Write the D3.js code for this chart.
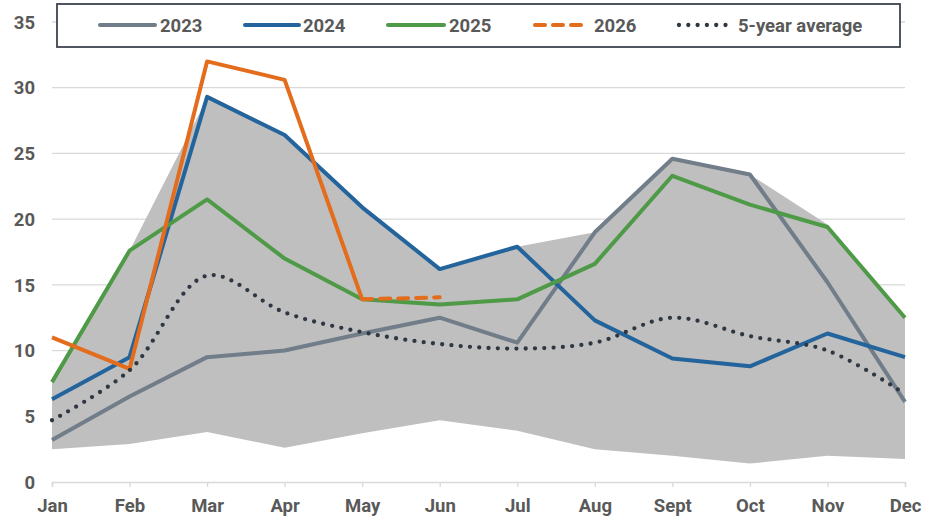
<!DOCTYPE html>
<html>
<head>
<meta charset="utf-8">
<script src="https://cdn.jsdelivr.net/npm/d3@7"></script>
<style>
  body { margin: 0; background: #fff; }
  text { font-family: Roboto, "Liberation Sans", sans-serif; font-weight: bold; fill: #595959; }
</style>
</head>
<body>
<div class="chart"></div>
<script>
var months = ["Jan", "Feb", "Mar", "Apr", "May", "Jun", "Jul", "Aug", "Sept", "Oct", "Nov", "Dec"];

var rangeHigh = [7.6, 17.6, 29.2, 26.5, 20.9, 16.1, 17.9, 19.0, 24.6, 23.4, 19.6, 12.5];
var rangeLow  = [2.5, 2.9, 3.8, 2.6, 3.7, 4.7, 3.9, 2.5, 2.0, 1.4, 2.0, 1.75];

var values2023 = [3.2, 6.5, 9.5, 10.0, 11.3, 12.5, 10.6, 19.0, 24.6, 23.4, 15.2, 6.1];
var values2024 = [6.3, 9.5, 29.3, 26.4, 20.9, 16.2, 17.9, 12.3, 9.4, 8.8, 11.3, 9.5];
var values2025 = [7.6, 17.6, 21.5, 17.0, 13.9, 13.5, 13.9, 16.6, 23.3, 21.1, 19.4, 12.5];
var values2026 = [11.0, 8.6, 32.0, 30.6, 13.9, 14.05];
var fiveYearAvg = [4.7, 8.5, 15.7, 12.9, 11.4, 10.5, 10.15, 10.6, 12.5, 11.1, 10.0, 6.7];

var yTicks = [0, 5, 10, 15, 20, 25, 30, 35];

var width = 945;
var height = 531;

var x = d3.scalePoint()
    .domain(months)
    .range([52, 905]);

var y = d3.scaleLinear()
    .domain([0, 35])
    .range([482, 22]);

var svg = d3.select(".chart")
    .append("svg")
    .attr("width", width)
    .attr("height", height);

// gridlines
svg.selectAll(".grid")
    .data(yTicks.filter(function(d) { return d > 0; }))
    .enter().append("line")
    .attr("x1", 52)
    .attr("x2", 905)
    .attr("y1", function(d) { return y(d); })
    .attr("y2", function(d) { return y(d); })
    .attr("stroke", "#d9d9d9")
    .attr("stroke-width", 1.3);

// min-max band
var band = d3.area()
    .x(function(d, i) { return x(months[i]); })
    .y0(function(d, i) { return y(rangeLow[i]); })
    .y1(function(d) { return y(d); });

svg.append("path")
    .datum(rangeHigh)
    .attr("d", band)
    .attr("fill", "#bfbfbf");

// x axis
var xAxis = d3.axisBottom(x).tickSize(5).tickPadding(12);
var gx = svg.append("g")
    .attr("transform", "translate(0," + y(0) + ")")
    .call(xAxis);
gx.select(".domain").attr("stroke", "#d9d9d9").attr("stroke-width", 1.5);
gx.selectAll(".tick line").attr("stroke", "#d9d9d9").attr("stroke-width", 1.3);
gx.selectAll(".tick text")
    .style("font-size", "18.5px")
    .attr("fill", "#595959");

// y labels
svg.selectAll(".ylab")
    .data(yTicks)
    .enter().append("text")
    .attr("x", 35)
    .attr("y", function(d) { return y(d); })
    .attr("dy", "0.36em")
    .style("text-anchor", "end")
    .style("font-size", "18.5px")
    .text(function(d) { return d; });

var line = d3.line()
    .x(function(d, i) { return x(months[i]); })
    .y(function(d) { return y(d); });

var series = [
    { name: "2023", values: values2023, color: "#717d89" },
    { name: "2024", values: values2024, color: "#24649c" },
    { name: "2025", values: values2025, color: "#4e9a47" }
];

series.forEach(function(s) {
    svg.append("path")
        .datum(s.values)
        .attr("d", line)
        .attr("fill", "none")
        .attr("stroke", s.color)
        .attr("stroke-width", 4)
        .attr("stroke-linejoin", "round");
});

// 2026: solid through May, dashed after
var line2026 = d3.line()
    .x(function(d) { return x(months[d.i]); })
    .y(function(d) { return y(d.v); });
var pts2026 = values2026.map(function(v, i) { return { v: v, i: i }; });

svg.append("path")
    .datum(pts2026.slice(0, 5))
    .attr("d", line2026)
    .attr("fill", "none")
    .attr("stroke", "#e36c1d")
    .attr("stroke-width", 4)
    .attr("stroke-linejoin", "round");

svg.append("path")
    .datum(pts2026.slice(4))
    .attr("d", line2026)
    .attr("fill", "none")
    .attr("stroke", "#e36c1d")
    .attr("stroke-width", 4)
    .attr("stroke-linecap", "round")
    .attr("stroke-dasharray", "10 8");

// 5-year average, smoothed dotted
svg.append("path")
    .datum(fiveYearAvg)
    .attr("d", line.curve(d3.curveCatmullRom.alpha(0.5)))
    .attr("fill", "none")
    .attr("stroke", "#2f3742")
    .attr("stroke-width", 4.3)
    .attr("stroke-linecap", "round")
    .attr("stroke-dasharray", "0 9.3");

// legend
var legend = svg.append("g");
legend.append("rect")
    .attr("x", 57)
    .attr("y", 4)
    .attr("width", 843)
    .attr("height", 43)
    .attr("fill", "#fff")
    .attr("stroke", "#3c444e")
    .attr("stroke-width", 1.8);

var legendItems = [
    { name: "2023", color: "#717d89", x1: 100, x2: 155, tx: 160, dash: null },
    { name: "2024", color: "#24649c", x1: 245, x2: 299, tx: 303, dash: null },
    { name: "2025", color: "#4e9a47", x1: 388, x2: 444, tx: 449, dash: null },
    { name: "2026", color: "#e36c1d", x1: 535, x2: 582, tx: 594, dash: "10 8" },
    { name: "5-year average", color: "#2f3742", x1: 679, x2: 727, tx: 738, dash: "0 9.3" }
];

legendItems.forEach(function(d) {
    legend.append("line")
        .attr("x1", d.x1)
        .attr("x2", d.x2)
        .attr("y1", 25)
        .attr("y2", 25)
        .attr("stroke", d.color)
        .attr("stroke-width", d.dash === "0 9.3" ? 4.3 : 4)
        .attr("stroke-linecap", "round")
        .attr("stroke-dasharray", d.dash);
    legend.append("text")
        .attr("x", d.tx)
        .attr("y", 25)
        .attr("dy", "0.36em")
        .style("font-size", "18.5px")
        .text(d.name);
});
</script>
</body>
</html>
